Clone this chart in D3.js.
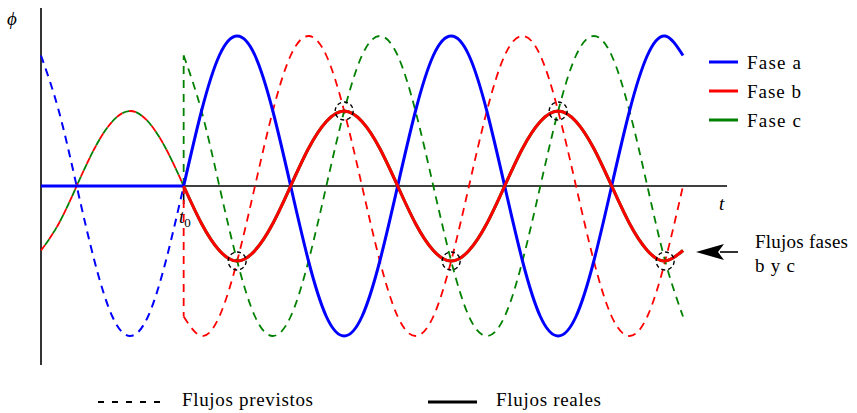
<!DOCTYPE html>
<html>
<head>
<meta charset="utf-8">
<script src="https://cdn.jsdelivr.net/npm/d3@7"></script>
<style>
  body { margin: 0; background: #fff; }
</style>
</head>
<body>
<svg id="chart" width="857" height="413"></svg>
<script>
// Electrical angle in degrees; 0 is the switching instant t0.
const anglePre  = [-240, -210, -180, -150, -120, -90, -60, -30, 0];
const anglePost = [0, 30, 60, 90, 120, 150, 180, 210, 240, 270, 300, 330,
                   360, 390, 420, 450, 480, 510, 540, 570, 600, 630, 660, 690,
                   720, 750, 780, 810, 840];

// Flux (per unit of the phase-a peak) before t0
const predictedAPre  = [0.87, 0.5, 0, -0.5, -0.87, -1, -0.87, -0.5, 0];
const predictedBCPre = [-0.43, -0.25, 0, 0.25, 0.43, 0.5, 0.43, 0.25, 0];
const realAPre       = [0, 0, 0, 0, 0, 0, 0, 0, 0];

// Flux after t0
const realA = [0, 0.5, 0.87, 1, 0.87, 0.5, 0, -0.5, -0.87, -1, -0.87, -0.5,
               0, 0.5, 0.87, 1, 0.87, 0.5, 0, -0.5, -0.87, -1, -0.87, -0.5,
               0, 0.5, 0.87, 1, 0.87];
const realBC = [0, -0.25, -0.43, -0.5, -0.43, -0.25, 0, 0.25, 0.43, 0.5, 0.43, 0.25,
                0, -0.25, -0.43, -0.5, -0.43, -0.25, 0, 0.25, 0.43, 0.5, 0.43, 0.25,
                0, -0.25, -0.43, -0.5, -0.43];
const predictedB = [-0.87, -1, -0.87, -0.5, 0, 0.5, 0.87, 1, 0.87, 0.5, 0, -0.5,
                    -0.87, -1, -0.87, -0.5, 0, 0.5, 0.87, 1, 0.87, 0.5, 0, -0.5,
                    -0.87, -1, -0.87, -0.5, 0];
const predictedC = [0.87, 0.5, 0, -0.5, -0.87, -1, -0.87, -0.5, 0, 0.5, 0.87, 1,
                    0.87, 0.5, 0, -0.5, -0.87, -1, -0.87, -0.5, 0, 0.5, 0.87, 1,
                    0.87, 0.5, 0, -0.5, -0.87];

// Points where the real b/c flux meets the predicted b and c fluxes
const crossAngle = [90, 270, 450, 630, 810];
const crossFlux  = [-0.5, 0.5, -0.5, 0.5, -0.5];

const phaseNames  = ["Fase a", "Fase b", "Fase c"];
const phaseColors = ["#0000ff", "#ff0000", "#008000"];
const styleNames  = ["Flujos previstos", "Flujos reales"];

const SERIF = "Liberation Serif, Times New Roman, Times, DejaVu Serif, FreeSerif, Noto Serif, serif";

const svg = d3.select("#chart");
const x = d3.scaleLinear().domain([-240, 840]).range([41, 683]);
const y = d3.scaleLinear().domain([-1, 1]).range([336, 36]);

const zip = (a, v) => a.map((t, i) => [t, v[i]]);
const smooth = d3.line().x(d => x(d[0])).y(d => y(d[1])).curve(d3.curveNatural);
const straight = d3.line().x(d => x(d[0])).y(d => y(d[1]));

function label(px, py, size, str) {
  return svg.append("text").attr("x", px).attr("y", py)
    .style("font-family", SERIF).style("font-size", size + "px").style("fill", "#000")
    .text(str);
}

// Axes
svg.append("line").attr("x1", 41).attr("x2", 41).attr("y1", 8).attr("y2", 365)
  .attr("stroke", "#000").attr("stroke-width", 1.6);
svg.append("line").attr("x1", 41).attr("x2", 727).attr("y1", y(0)).attr("y2", y(0))
  .attr("stroke", "#000").attr("stroke-width", 1.6);
svg.append("line").attr("x1", x(0)).attr("x2", x(0)).attr("y1", y(0)).attr("y2", y(0) + 18)
  .attr("stroke", "#000").attr("stroke-width", 1.6);

label(7, 25, 19, "\u03d5").style("font-style", "italic");
label(719, 210, 19, "t").style("font-style", "italic");
const t0 = label(179, 223, 19, null);
t0.append("tspan").style("font-style", "italic").text("t");
t0.append("tspan").style("font-size", "13px").attr("dy", 4).text("0");

// Predicted fluxes (dashed)
svg.append("path").attr("d", smooth(zip(anglePre, predictedAPre)))
  .attr("fill", "none").attr("stroke", phaseColors[0]).attr("stroke-width", 2)
  .attr("stroke-dasharray", "8,6");
svg.append("path").attr("d", smooth(zip(anglePre, predictedBCPre)))
  .attr("fill", "none").attr("stroke", phaseColors[1]).attr("stroke-width", 1.8)
  .attr("stroke-dasharray", "7,7");
svg.append("path").attr("d", smooth(zip(anglePre, predictedBCPre)))
  .attr("fill", "none").attr("stroke", phaseColors[2]).attr("stroke-width", 1.8)
  .attr("stroke-dasharray", "7,7").attr("stroke-dashoffset", 7);

[[predictedB, phaseColors[1]], [predictedC, phaseColors[2]]].forEach(([vals, col]) => {
  // jump at t0 from the pre-switching value to the new predicted value
  svg.append("path").attr("d", straight([[0, 0], [0, vals[0]]]))
    .attr("fill", "none").attr("stroke", col).attr("stroke-width", 1.8)
    .attr("stroke-dasharray", "8,6");
  svg.append("path").attr("d", smooth(zip(anglePost, vals)))
    .attr("fill", "none").attr("stroke", col).attr("stroke-width", 1.8)
    .attr("stroke-dasharray", "8,6");
});

// Real fluxes (solid)
svg.append("path").attr("d", smooth(zip(anglePost, realBC)))
  .attr("fill", "none").attr("stroke", phaseColors[2]).attr("stroke-width", 3);
svg.append("path").attr("d", straight(zip(anglePre, realAPre)))
  .attr("fill", "none").attr("stroke", phaseColors[0]).attr("stroke-width", 3);
svg.append("path").attr("d", smooth(zip(anglePost, realA)))
  .attr("fill", "none").attr("stroke", phaseColors[0]).attr("stroke-width", 3);
svg.append("path").attr("d", smooth(zip(anglePost, realBC)))
  .attr("fill", "none").attr("stroke", phaseColors[1]).attr("stroke-width", 3);

// Crossing markers
svg.selectAll("circle.cross").data(crossAngle).join("circle")
  .attr("class", "cross")
  .attr("cx", d => x(d)).attr("cy", (d, i) => y(crossFlux[i])).attr("r", 9)
  .attr("fill", "none").attr("stroke", "#000").attr("stroke-width", 1.4)
  .attr("stroke-dasharray", "4,3");

// Phase legend
phaseNames.forEach((name, i) => {
  const ly = 62 + i * 29;
  svg.append("line").attr("x1", 709).attr("x2", 738).attr("y1", ly).attr("y2", ly)
    .attr("stroke", phaseColors[i]).attr("stroke-width", 3);
  label(747, ly + 7, 19, name).attr("textLength", 54);
});

// Annotation arrow
svg.append("line").attr("x1", 720).attr("x2", 738).attr("y1", 252).attr("y2", 252)
  .attr("stroke", "#000").attr("stroke-width", 1.6);
svg.append("path").attr("d", "M696,252 L724,244 L718,252 L724,260 Z").attr("fill", "#000");
label(755, 248, 19, "Flujos fases").attr("textLength", 93);
label(755, 272, 19, "b y c").attr("textLength", 40);

// Line-style legend
svg.append("line").attr("x1", 98).attr("x2", 160).attr("y1", 402).attr("y2", 402)
  .attr("stroke", "#000").attr("stroke-width", 1.8).attr("stroke-dasharray", "6,8");
label(182, 406, 19, styleNames[0]).attr("textLength", 131);
svg.append("line").attr("x1", 428).attr("x2", 477).attr("y1", 402).attr("y2", 402)
  .attr("stroke", "#000").attr("stroke-width", 3);
label(496, 406, 19, styleNames[1]).attr("textLength", 105);
</script>
</body>
</html>
